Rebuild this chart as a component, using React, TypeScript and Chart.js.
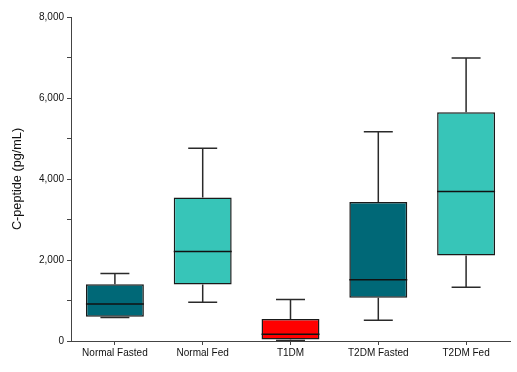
import React, { useEffect, useRef } from "react";
import { Chart, registerables } from "chart.js";

Chart.register(...registerables);

const categories = ["Normal Fasted", "Normal Fed", "T1DM", "T2DM Fasted", "T2DM Fed"];
const mins = [580, 957, 10, 512, 1328];
const q1s = [600, 1395, 35, 1065, 2112];
const medians = [915, 2210, 166, 1510, 3694];
const q3s = [1402, 3546, 544, 3430, 5648];
const maxs = [1667, 4757, 1024, 5168, 6990];
const colors = ["#006877", "#37C5B8", "#FF0000", "#006877", "#37C5B8"];

const boxPlugin = {
  id: "boxWhiskers",
  afterDatasetsDraw(chart: any) {
    const ctx = chart.ctx;
    const y = chart.scales.y;
    const meta = chart.getDatasetMeta(0);
    ctx.save();
    meta.data.forEach((bar: any, i: number) => {
      const cx = bar.x;
      const half = bar.width / 2;
      const capHalf = bar.width / 4;
      const pMin = y.getPixelForValue(mins[i]);
      const pQ1 = y.getPixelForValue(q1s[i]);
      const pMed = y.getPixelForValue(medians[i]);
      const pQ3 = y.getPixelForValue(q3s[i]);
      const pMax = y.getPixelForValue(maxs[i]);
      ctx.strokeStyle = "#2a2a2a";
      ctx.lineWidth = 1.5;
      ctx.beginPath();
      ctx.moveTo(cx, pQ3);
      ctx.lineTo(cx, pMax);
      ctx.moveTo(cx - capHalf, pMax);
      ctx.lineTo(cx + capHalf, pMax);
      ctx.moveTo(cx, pQ1);
      ctx.lineTo(cx, pMin);
      ctx.moveTo(cx - capHalf, pMin);
      ctx.lineTo(cx + capHalf, pMin);
      ctx.stroke();
      ctx.strokeStyle = "#111";
      ctx.beginPath();
      ctx.moveTo(cx - half, pMed);
      ctx.lineTo(cx + half, pMed);
      ctx.stroke();
    });
    ctx.restore();
  },
};

export default function App() {
  const ref = useRef<HTMLCanvasElement | null>(null);
  useEffect(() => {
    if (!ref.current) return;
    const chart = new Chart(ref.current, {
      type: "bar",
      data: {
        labels: categories,
        datasets: [
          {
            data: q1s.map((v, i) => [v, q3s[i]]) as any,
            backgroundColor: colors,
            borderColor: "#1a1a1a",
            borderWidth: 1.5,
            borderSkipped: false,
            barPercentage: 0.66,
            categoryPercentage: 1,
          },
        ],
      },
      options: {
        animation: false,
        responsive: false,
        maintainAspectRatio: false,
        layout: { padding: { top: 17, right: 7, left: 0, bottom: 0 } },
        plugins: { legend: { display: false }, tooltip: { enabled: false } },
        scales: {
          x: {
            grid: { display: true, drawOnChartArea: false, tickLength: 4, color: "#444", offset: false },
            border: { color: "#444", width: 1 },
            ticks: { color: "#111", font: { family: "Liberation Sans, Arial", size: 10 }, padding: 2, maxRotation: 0 },
            afterFit: (s: any) => { s.height = 31; },
          },
          y: {
            min: 0,
            max: 8000,
            grid: { display: true, drawOnChartArea: false, tickLength: 4, color: "#444" },
            border: { color: "#444", width: 1 },
            ticks: {
              stepSize: 1000,
              color: "#111",
              font: { family: "Liberation Sans, Arial", size: 10 },
              padding: 3,
              callback: (v: any) => (Number(v) % 2000 === 0 ? Number(v).toLocaleString("en-US") : ""),
            },
            title: {
              display: true,
              text: "C-peptide (pg/mL)",
              color: "#111",
              font: { family: "Liberation Sans, Arial", size: 12.7 },
              padding: { top: 10, bottom: 0 },
            },
            afterFit: (s: any) => { s.width = 71; },
          },
        },
      },
      plugins: [boxPlugin],
    });
    return () => chart.destroy();
  }, []);
  return (
    <div style={{ position: "fixed", left: 0, top: 0, width: 517, height: 372, background: "#fff" }}>
      <canvas ref={ref} width={517} height={372} style={{ width: 517, height: 372 }} />
    </div>
  );
}
